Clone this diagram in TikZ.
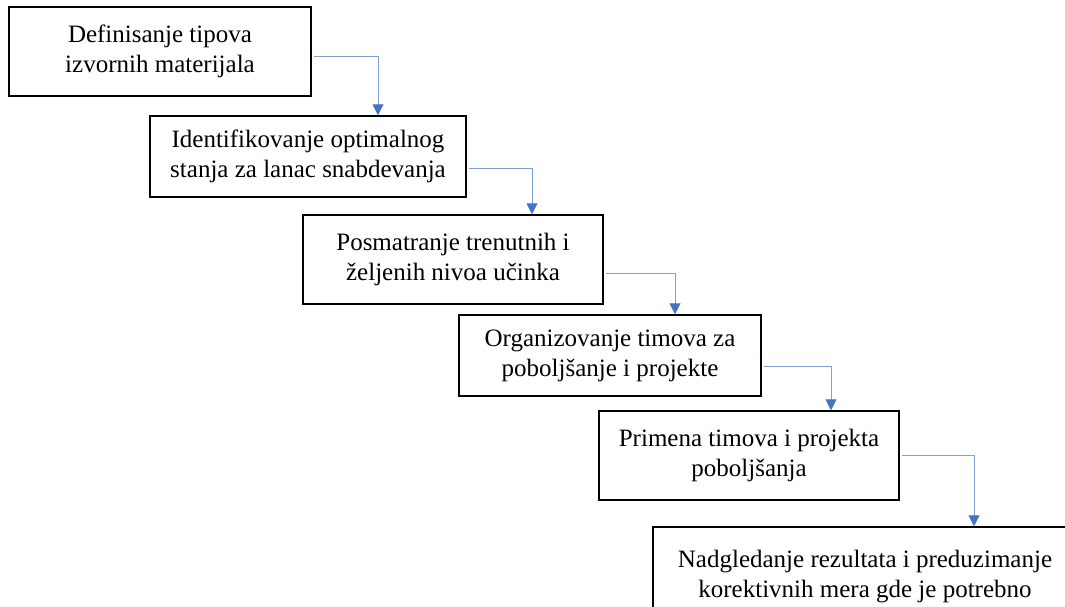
\documentclass[tikz,border=0pt]{standalone}
\usepackage{fontspec}
\setmainfont{Liberation Serif}
\usetikzlibrary{arrows.meta}
\definecolor{flowblue}{HTML}{4472C4}
\definecolor{flowline}{HTML}{7FA1DA}
\begin{document}
\begin{tikzpicture}[x=1pt,y=-1pt,
  stepbox/.style={draw=black,line width=1.5pt,fill=white,align=center,
    inner sep=0pt,font=\fontsize{25}{30}\selectfont},
  conn/.style={draw=flowline,line width=1pt,shorten <=2pt,
    -{Triangle[length=11pt,width=11pt,fill=flowblue,color=flowblue]}}]
\clip (0,0) rectangle (1065,606);
\fill[white] (0,0) rectangle (1065,606);
% process steps
\node[stepbox,minimum width=302pt,minimum height=89pt] (b1) at (160,51.5)
  {Definisanje tipova\\izvornih materijala};
\node[stepbox,minimum width=316pt,minimum height=81pt] (b2) at (308,156.5)
  {Identifikovanje optimalnog\\stanja za lanac snabdevanja};
\node[stepbox,minimum width=300pt,minimum height=89pt] (b3) at (453,259.5)
  {Posmatranje trenutnih i\\željenih nivoa učinka};
\node[stepbox,minimum width=302pt,minimum height=81pt] (b4) at (610,355.5)
  {Organizovanje timova za\\poboljšanje i projekte};
\node[stepbox,minimum width=300pt,minimum height=89pt] (b5) at (749,455.5)
  {Primena timova i projekta\\poboljšanja};
\node[stepbox,minimum width=424pt,minimum height=90pt,text depth=0pt] (b6) at (865,572)
  {\raisebox{14pt}{\begin{tabular}{@{}c@{}}Nadgledanje rezultata i preduzimanje\\korektivnih mera gde je potrebno\end{tabular}}};
% connectors
\draw[conn] ([yshift=-4.5pt]b1.east) -| ([xshift=70pt]b2.north);
\draw[conn] ([yshift=-11.5pt]b2.east) -| ([xshift=79pt]b3.north);
\draw[conn] ([yshift=-13.5pt]b3.east) -| ([xshift=65pt]b4.north);
\draw[conn] ([yshift=-10.5pt]b4.east) -| ([xshift=82pt]b5.north);
\draw[conn] (b5.east) -| ([xshift=109pt]b6.north);
\end{tikzpicture}
\end{document}
